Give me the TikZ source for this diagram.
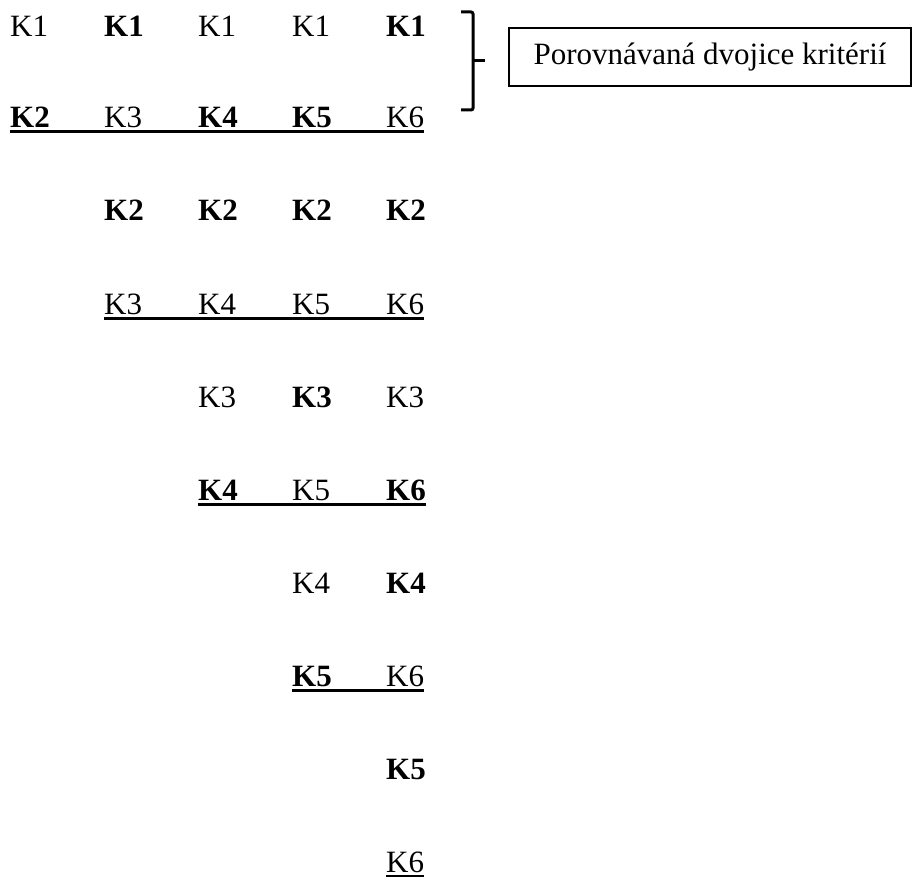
\documentclass[tikz,border=0pt]{standalone}
\usepackage{fontspec}
\setmainfont{Liberation Serif}
\begin{document}
\begin{tikzpicture}[x=1pt,y=-1pt,
  lbl/.style={anchor=base west,inner sep=0pt,font=\fontsize{31}{33}\selectfont},
  blbl/.style={lbl,font=\fontsize{31}{33}\selectfont\bfseries},
  uline/.style={line width=3pt},
  brace/.style={line width=3pt,rounded corners=2pt},
  note/.style={draw,line width=1.8pt,minimum width=402pt,minimum height=58pt,inner sep=0pt,font=\fontsize{31}{33}\selectfont}]
\useasboundingbox (0,0) rectangle (912,877);
% row 1
\node[lbl]  (a11) at (10,37)  {K1};
\node[blbl] (a12) at (104,37) {K1};
\node[lbl]  (a13) at (198,37) {K1};
\node[lbl]  (a14) at (292,37) {K1};
\node[blbl] (a15) at (386,37) {K1};
% row 2
\node[blbl] (a21) at (10,128)  {K2};
\node[lbl]  (a22) at (104,128) {K3};
\node[blbl] (a23) at (198,128) {K4};
\node[blbl] (a24) at (292,128) {K5};
\node[lbl]  (a25) at (386,128) {K6};
% row 3
\node[blbl] (a32) at (104,221) {K2};
\node[blbl] (a33) at (198,221) {K2};
\node[blbl] (a34) at (292,221) {K2};
\node[blbl] (a35) at (386,221) {K2};
% row 4
\node[lbl] (a42) at (104,314) {K3};
\node[lbl] (a43) at (198,314) {K4};
\node[lbl] (a44) at (292,314) {K5};
\node[lbl] (a45) at (386,314) {K6};
% row 5
\node[lbl]  (a53) at (198,407) {K3};
\node[blbl] (a54) at (292,407) {K3};
\node[lbl]  (a55) at (386,407) {K3};
% row 6
\node[blbl] (a63) at (198,500) {K4};
\node[lbl]  (a64) at (292,500) {K5};
\node[blbl] (a65) at (386,500) {K6};
% row 7
\node[lbl]  (a74) at (292,593) {K4};
\node[blbl] (a75) at (386,593) {K4};
% row 8
\node[blbl] (a84) at (292,686) {K5};
\node[lbl]  (a85) at (386,686) {K6};
% row 9
\node[blbl] (a95) at (386,779) {K5};
% row 10
\node[lbl] (a105) at (386,872) {K6};
% underlines
\draw[uline] ([yshift=-4pt]a21.base west) -- ([yshift=-4pt]a25.base east);
\draw[uline] ([yshift=-4pt]a42.base west) -- ([yshift=-4pt]a45.base east);
\draw[uline] ([yshift=-4pt]a63.base west) -- ([yshift=-4pt]a65.base east);
\draw[uline] ([yshift=-4pt]a84.base west) -- ([yshift=-4pt]a85.base east);
\draw[uline] ([yshift=-4pt]a105.base west) -- ([yshift=-4pt]a105.base east);
% brace
\coordinate (bt) at (461,12);
\coordinate (bb) at (461,110);
\coordinate (bm) at (473,61);
\coordinate (btip) at (485,61);
\draw[brace] (bt) -| (bm) |- (bb);
\draw[line width=3pt] (bm) -- (btip);
% note box
\node[note] (box) at (710,57) {Porovnávaná dvojice kritérií};
\end{tikzpicture}
\end{document}
